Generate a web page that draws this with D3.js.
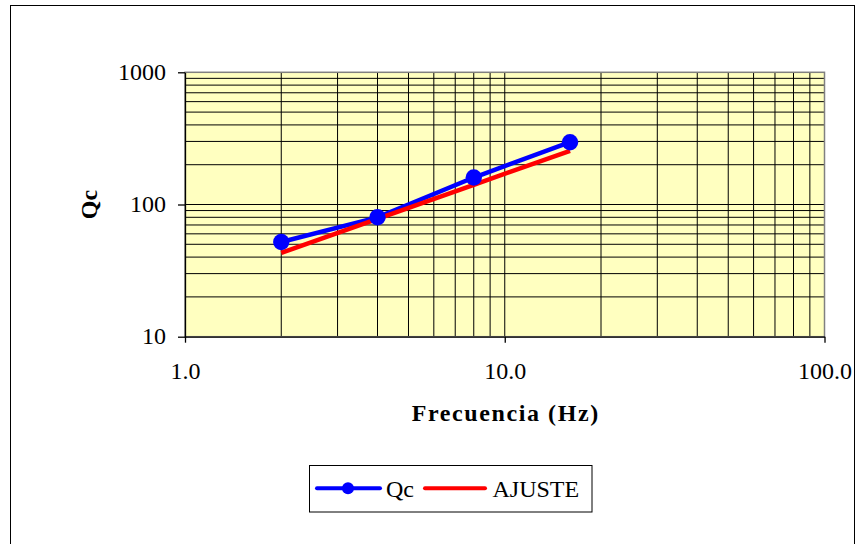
<!DOCTYPE html>
<html>
<head>
<meta charset="utf-8">
<script src="https://cdn.jsdelivr.net/npm/d3@7"></script>
<style>
  html, body { margin: 0; padding: 0; background: #ffffff; }
  svg { display: block; font-family: "Liberation Serif", "Times New Roman", serif; }
</style>
</head>
<body>
<svg id="chart" width="856" height="544"></svg>
<script>
// Frequency (Hz) of each measurement
const freqs = [2, 4, 8, 16];
// Measured coda quality factor Qc
const qcValues = [52, 80, 160, 296];
// Power-law fit evaluated at the same frequencies
const fitValues = [43, 78, 141, 255];
// Axis tick values and their labels
const xTicks = [1, 10, 100];
const xTickLabels = ["1.0", "10.0", "100.0"];
const yTicks = [10, 100, 1000];
const yTickLabels = ["10", "100", "1000"];
const seriesNames = ["Qc", "AJUSTE"];

const svg = d3.select("#chart");
const plot = { left: 185, right: 824.5, top: 72.3, bottom: 336.7 };

const x = d3.scaleLog().domain([1, 100]).range([plot.left, plot.right]);
const y = d3.scaleLog().domain([10, 1000]).range([plot.bottom, plot.top]);

// Outer chart frame
svg.append("rect")
  .attr("x", 10.5).attr("y", 5.5)
  .attr("width", 844).attr("height", 560)
  .attr("fill", "#ffffff").attr("stroke", "#000000").attr("stroke-width", 1);

// Plot background
svg.append("rect")
  .attr("x", plot.left).attr("y", plot.top)
  .attr("width", plot.right - plot.left).attr("height", plot.bottom - plot.top)
  .attr("fill", "#FFFFC0");

// Gridlines at every decade subdivision
const grid = svg.append("g").attr("stroke", "#000000").attr("stroke-width", 1);
x.ticks().filter(d => d > 1 && d < 100).forEach(d => {
  grid.append("line")
    .attr("x1", x(d)).attr("x2", x(d))
    .attr("y1", plot.top).attr("y2", plot.bottom);
});
y.ticks().filter(d => d > 10 && d < 1000).forEach(d => {
  grid.append("line")
    .attr("x1", plot.left).attr("x2", plot.right)
    .attr("y1", y(d)).attr("y2", y(d));
});

// Plot border (top and right in grey)
svg.append("rect")
  .attr("x", plot.left).attr("y", plot.top)
  .attr("width", plot.right - plot.left).attr("height", plot.bottom - plot.top)
  .attr("fill", "none").attr("stroke", "#808080").attr("stroke-width", 1.5);

// Axes
const yAxis = d3.axisLeft(y)
  .tickValues(yTicks)
  .tickFormat((d, i) => yTickLabels[i])
  .tickSize(7).tickSizeOuter(0).tickPadding(12);
const gy = svg.append("g").attr("transform", `translate(${plot.left},0)`).call(yAxis);

const xAxis = d3.axisBottom(x)
  .tickValues(xTicks)
  .tickFormat((d, i) => xTickLabels[i])
  .tickSize(6).tickSizeOuter(0).tickPadding(19);
const gx = svg.append("g").attr("transform", `translate(0,${plot.bottom})`).call(xAxis);

[gx, gy].forEach(g => {
  g.select(".domain").attr("stroke", "#000000").attr("stroke-width", 1.3);
  g.selectAll(".tick line").attr("stroke", "#000000").attr("stroke-width", 1.3);
  g.selectAll(".tick text")
    .attr("fill", "#000000")
    .style("font-family", "'Liberation Serif', 'Times New Roman', serif")
    .style("font-size", "24px");
});
gy.selectAll(".tick text").attr("dy", "0.3em");

// Axis titles
svg.append("text")
  .attr("x", (plot.left + plot.right) / 2 + 1)
  .attr("y", 421)
  .attr("text-anchor", "middle")
  .attr("font-weight", "bold")
  .attr("font-size", 24)
  .attr("letter-spacing", 1.6)
  .text("Frecuencia (Hz)");

svg.append("text")
  .attr("transform", `translate(97,${y(100)}) rotate(-90)`)
  .attr("text-anchor", "middle")
  .attr("font-weight", "bold")
  .attr("font-size", 24)
  .text("Qc");

// Series
const qcData = freqs.map((f, i) => ({ f, v: qcValues[i] }));
const fitData = freqs.map((f, i) => ({ f, v: fitValues[i] }));
const line = d3.line().x(d => x(d.f)).y(d => y(d.v));

svg.append("path").datum(qcData)
  .attr("d", line).attr("fill", "none")
  .attr("stroke", "#0000FF").attr("stroke-width", 4.5).attr("stroke-linejoin", "round");

svg.append("path").datum(fitData)
  .attr("d", line).attr("fill", "none")
  .attr("stroke", "#FF0000").attr("stroke-width", 4.5).attr("stroke-linejoin", "round");

svg.append("g").selectAll("circle").data(qcData).join("circle")
  .attr("cx", d => x(d.f)).attr("cy", d => y(d.v)).attr("r", 8.2)
  .attr("fill", "#0000FF");

// Legend
const legend = svg.append("g");
legend.append("rect")
  .attr("x", 309.5).attr("y", 465.5).attr("width", 282.5).attr("height", 46.5)
  .attr("fill", "#ffffff").attr("stroke", "#000000").attr("stroke-width", 1);
const ly = 488.3;
legend.append("line")
  .attr("x1", 317).attr("x2", 380).attr("y1", ly).attr("y2", ly)
  .attr("stroke", "#0000FF").attr("stroke-width", 4).attr("stroke-linecap", "round");
legend.append("circle").attr("cx", 348).attr("cy", ly).attr("r", 6).attr("fill", "#0000FF");
legend.append("text").attr("x", 386).attr("y", ly + 8.5)
  .attr("font-size", 24).text(seriesNames[0]);
legend.append("line")
  .attr("x1", 425).attr("x2", 485).attr("y1", ly).attr("y2", ly)
  .attr("stroke", "#FF0000").attr("stroke-width", 4).attr("stroke-linecap", "round");
legend.append("text").attr("x", 492.5).attr("y", ly + 8.5)
  .attr("font-size", 24).text(seriesNames[1]);
</script>
</body>
</html>
